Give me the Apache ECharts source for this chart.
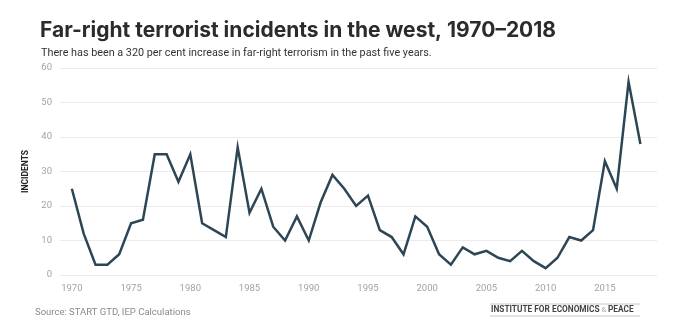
<!DOCTYPE html>
<html>
<head>
<meta charset="utf-8">
<script src="https://cdn.jsdelivr.net/npm/echarts@6/dist/echarts.min.js"></script>
<style>
html,body{margin:0;padding:0;background:#fff;}
#chart{width:680px;height:329px;}
</style>
</head>
<body>
<div id="chart"></div>
<script>
var years = [1970,1971,1972,1973,1974,1975,1976,1977,1978,1979,1980,1981,1982,1983,1984,1985,1986,1987,1988,1989,1990,1991,1992,1993,1994,1995,1996,1997,1998,1999,2000,2001,2002,2003,2004,2005,2006,2007,2008,2009,2010,2011,2012,2013,2014,2015,2016,2017,2018];
var incidents = [25,12,3,3,6,15,16,35,35,27,35,15,13,11,37,18,25,14,10,17,10,21,29,25,20,23,13,11,6,17,14,6,3,8,6,7,5,4,7,4,2,5,11,10,13,33,25,56,38];
var yTicks = [0,10,20,30,40,50,60];
var xLabelYears = [1970,1975,1980,1985,1990,1995,2000,2005,2010,2015];

var title = 'Far-right terrorist incidents in the west, 1970–2018';
var subtitle = 'There has been a 320 per cent increase in far-right terrorism in the past five years.';
var source = 'Source: START GTD, IEP Calculations';
var yName = 'INCIDENTS';

var chart = echarts.init(document.getElementById('chart'), null, {renderer:'canvas'});
var lineData = years.map(function(y,i){return [y, incidents[i]];});
chart.setOption({
  animation:false,
  backgroundColor:'#fff',
  title:[{
    text: title,
    left: 35, top: 15,
    textStyle:{fontFamily:'Inter', fontWeight:'bold', fontSize:21, color:'#2b2b2b'}
  },{
    text: subtitle,
    left: 36, top: 43,
    textStyle:{fontFamily:'Roboto', fontWeight:'normal', fontSize:10.8, color:'#333'}
  }],
  grid:{left:60, right:23, top:68, bottom:54, containLabel:false},
  xAxis:{
    type:'value', min:1969, max:2019.4, interval:1,
    axisLine:{show:false}, axisTick:{show:false}, splitLine:{show:false},
    axisLabel:{
      margin:9, color:'#a3a3a3', fontFamily:'Roboto', fontSize:9.5,
      formatter:function(v){ return xLabelYears.indexOf(v) >= 0 ? String(v) : ''; }
    }
  },
  yAxis:{
    type:'value', min:yTicks[0], max:yTicks[yTicks.length-1], interval:10,
    name: yName, nameLocation:'middle', nameGap:24, nameRotate:90,
    nameTextStyle:{fontFamily:'Roboto', fontWeight:'bold', fontSize:8.5, color:'#222'},
    axisLine:{show:false}, axisTick:{show:false},
    axisLabel:{margin:8, color:'#a3a3a3', fontFamily:'Roboto', fontSize:9.5},
    splitLine:{lineStyle:{color:'#ebebeb', width:1}}
  },
  series:[{
    type:'line', data: lineData, symbol:'none',
    lineStyle:{color:'#2d4655', width:2.5, join:'miter'},
    itemStyle:{color:'#2d4655'}
  }],
  graphic:[
    {type:'text', left:35, top:308, style:{text:source, fontFamily:'Roboto', fontSize:9.5, fill:'#8a8a8a'}},
    {type:'line', shape:{x1:490, y1:304, x2:640, y2:304}, style:{stroke:'#c8c8c8', lineWidth:1}},
    {type:'line', shape:{x1:490, y1:316, x2:640, y2:316}, style:{stroke:'#c8c8c8', lineWidth:1}},
    {type:'text', left:491, top:306, style:{
      text:'{a|INSTITUTE FOR ECONOMICS}{b| & }{a|PEACE}',
      rich:{
        a:{fontFamily:'Roboto', fontWeight:'bold', fontSize:8.3, fill:'#444'},
        b:{fontFamily:'Roboto', fontSize:7.5, fill:'#aaa'}
      }
    }}
  ]
});
</script>
</body>
</html>
